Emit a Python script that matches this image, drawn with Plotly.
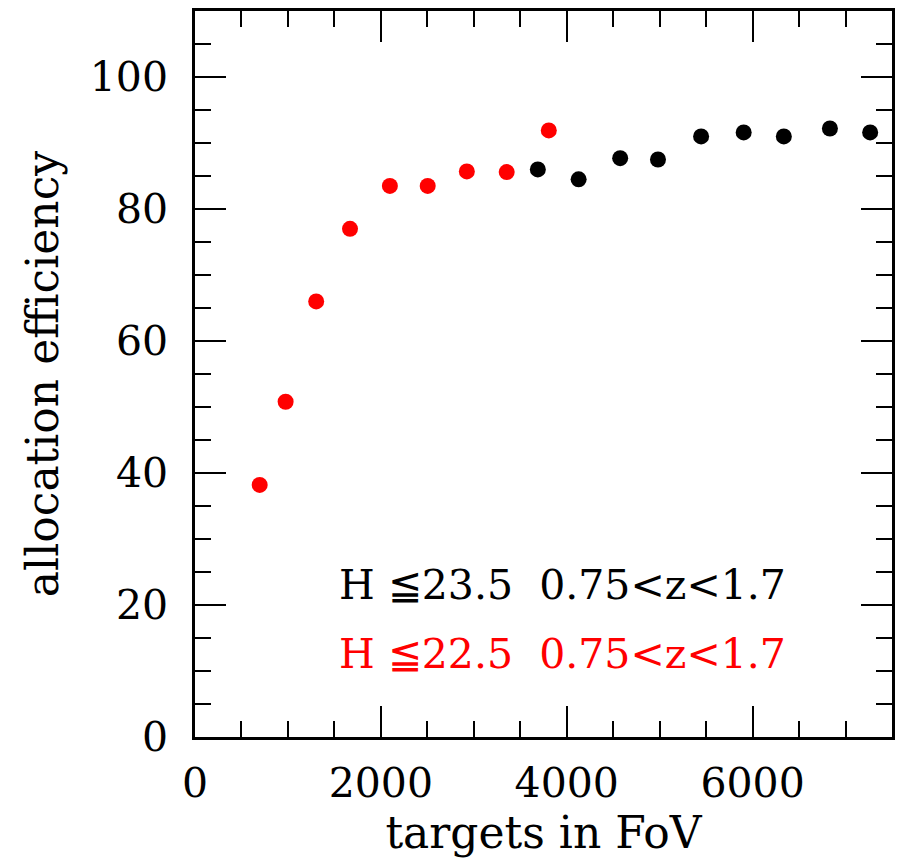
import plotly.graph_objects as go

# Allocation efficiency versus number of targets in the field of view
bright_targets = [696, 975, 1304, 1668, 2097, 2504, 2925, 3354, 3807]
bright_eff = [38.2, 50.8, 66.0, 77.0, 83.5, 83.5, 85.7, 85.6, 91.9]

faint_targets = [3689, 4128, 4575, 4982, 5446, 5904, 6336, 6832, 7265]
faint_eff = [86.0, 84.5, 87.7, 87.5, 91.0, 91.6, 91.0, 92.2, 91.6]

labels = ["H \u226623.5  0.75<z<1.7", "H \u226622.5  0.75<z<1.7"]
colors = ["black", "#ff0000"]

FONT = "DejaVu Serif"
W, H = 903, 860
MARGIN = dict(l=195, r=8, t=11, b=123)

fig = go.Figure()
fig.add_trace(go.Scatter(x=faint_targets, y=faint_eff, mode="markers",
                         marker=dict(color=colors[0], size=16, symbol="circle"),
                         showlegend=False))
fig.add_trace(go.Scatter(x=bright_targets, y=bright_eff, mode="markers",
                         marker=dict(color=colors[1], size=16, symbol="circle"),
                         showlegend=False))

axis_common = dict(
    showgrid=False, zeroline=False,
    showline=True, linecolor="black", linewidth=2.5, mirror="allticks",
    ticks="inside", ticklen=31, tickwidth=2.2, tickcolor="black",
    tickfont=dict(family=FONT, size=41, color="black"),
)

fig.update_xaxes(
    range=[0, 7500], tickmode="linear", tick0=0, dtick=2000,
    minor=dict(ticks="inside", ticklen=16, tickwidth=2.2, tickcolor="black",
               dtick=500, showgrid=False),
    ticklabelstandoff=8,
    title=dict(text="targets in FoV", font=dict(family=FONT, size=44, color="black"), standoff=8),
    **axis_common,
)
fig.update_yaxes(
    range=[0, 110], tickmode="linear", tick0=0, dtick=20,
    minor=dict(ticks="inside", ticklen=16, tickwidth=2.2, tickcolor="black",
               dtick=5, showgrid=False),
    ticklabelstandoff=16,
    title=dict(text="allocation efficiency", font=dict(family=FONT, size=44, color="black"), standoff=18),
    **axis_common,
)

# two label lines inside the plot, baselines near y=603 and y=672 px
plot_w = W - MARGIN["l"] - MARGIN["r"]
plot_h = H - MARGIN["t"] - MARGIN["b"]
for i, (txt, col) in enumerate(zip(labels, colors)):
    baseline_px = 603 + 69 * i
    fig.add_annotation(x=(338 - MARGIN["l"]) / plot_w,
                       y=1 - (baseline_px + 8 - MARGIN["t"]) / plot_h,
                       xref="paper", yref="paper", text=txt,
                       showarrow=False, xanchor="left", yanchor="bottom",
                       font=dict(family=FONT, size=41, color=col))

fig.update_layout(
    width=W, height=H,
    margin=MARGIN,
    plot_bgcolor="white", paper_bgcolor="white",
)

fig.write_html("out.html")
